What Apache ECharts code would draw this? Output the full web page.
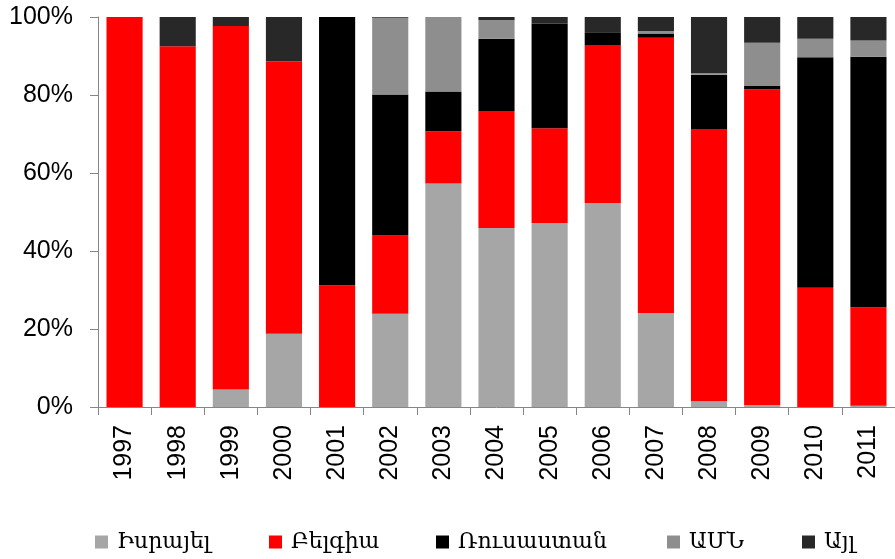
<!DOCTYPE html>
<html>
<head>
<meta charset="utf-8">
<script src="https://cdn.jsdelivr.net/npm/echarts@6/dist/echarts.min.js"></script>
<style>html,body{margin:0;padding:0;background:#fff}#c{width:895px;height:559px}</style>
</head>
<body>
<div id="c"></div>
<script>
var years = ['1997','1998','1999','2000','2001','2002','2003','2004','2005','2006','2007','2008','2009','2010','2011'];
var seriesNames = ['Իսրայել','Բելգիա','Ռուսաստան','ԱՄՆ','Այլ'];
var israel  = [0, 0, 4.5, 18.8, 0, 23.9, 57.3, 45.9, 47.2, 52.3, 24.1, 1.5, 0.5, 0, 0.3];
var belgium = [100, 92.5, 93.2, 69.8, 31.2, 20.1, 13.4, 30.0, 24.3, 40.5, 70.6, 69.8, 81.0, 30.6, 25.3];
var russia  = [0, 0, 0, 0, 68.8, 36.1, 10.2, 18.5, 26.8, 3.3, 1.1, 13.9, 0.8, 59.1, 64.2];
var usa     = [0, 0, 0, 0, 0, 19.7, 19.1, 4.8, 0, 0, 0.6, 0.4, 11.1, 4.7, 4.2];
var other   = [0, 7.5, 2.3, 11.4, 0, 0.2, 0, 0.8, 1.7, 3.9, 3.6, 14.4, 6.6, 5.6, 6.0];
var yTicks = [0, 20, 40, 60, 80, 100];

var values = [israel, belgium, russia, usa, other];
var colors = ['#a6a6a6', '#ff0000', '#000000', '#8e8e8e', '#282828'];
var legendLeft = [90, 264, 431, 662, 797];

var chart = echarts.init(document.getElementById('c'));
var axisColor = '#868686';
chart.setOption({
  animation: false,
  grid: {left: 98, right: -1, top: 17, bottom: 152, containLabel: false},
  legend: seriesNames.map(function (n, i) {
    return {
      data: [n], left: legendLeft[i], top: 526,
      itemWidth: 13, itemHeight: 13, itemGap: 0, icon: 'rect',
      textStyle: {fontFamily: 'DejaVu Serif, DejaVu Sans', fontSize: 22, color: '#000', padding: [0, 0, 0, 4]}
    };
  }),
  xAxis: {
    type: 'category', data: years,
    axisLine: {lineStyle: {color: axisColor, width: 1}},
    axisTick: {show: true, length: 8, lineStyle: {color: axisColor}},
    axisLabel: {rotate: 90, margin: 18, color: '#000', fontSize: 25, fontFamily: 'Liberation Sans, Arial'}
  },
  yAxis: {
    type: 'value', min: yTicks[0], max: yTicks[yTicks.length - 1], interval: 20,
    axisLine: {show: true, lineStyle: {color: axisColor, width: 1}},
    axisTick: {show: true, length: 8, lineStyle: {color: axisColor}},
    splitLine: {show: false},
    axisLabel: {formatter: '{value}%', margin: 25, color: '#000', fontSize: 25, fontFamily: 'Liberation Sans, Arial'}
  },
  series: seriesNames.map(function (n, i) {
    return {
      name: n, type: 'bar', stack: 'total', data: values[i],
      barCategoryGap: '32%',
      itemStyle: {color: colors[i]}
    };
  })
});
</script>
</body>
</html>
